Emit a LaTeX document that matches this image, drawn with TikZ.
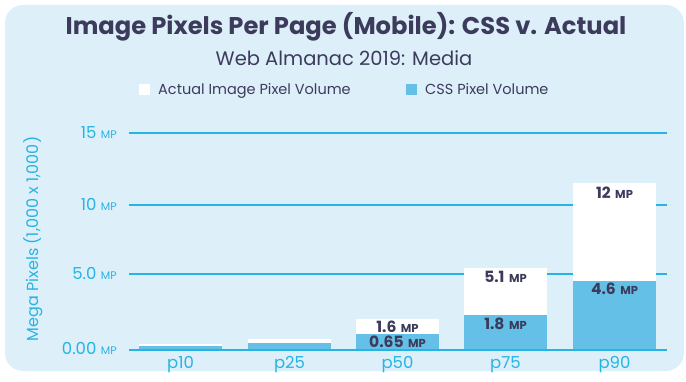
\documentclass[tikz,border=0pt]{standalone}
\usepackage{fontspec}
\setmainfont{Poppins}
\definecolor{bg}{RGB}{221,239,249}
\definecolor{navy}{RGB}{60,59,92}
\definecolor{cyanl}{RGB}{38,180,228}
\definecolor{barb}{RGB}{100,192,230}
\tikzset{
  grid/.style={draw=cyanl, line width=1.3pt},
  base/.style={draw=cyanl, line width=2.6pt},
  whitebar/.style={fill=white},
  bluebar/.style={fill=barb},
  val/.style={text=navy, font=\bfseries\fontsize{15.5}{17}\selectfont, inner sep=0pt, text height=11pt, text depth=0pt},
  ytick/.style={text=cyanl, font=\fontsize{16.5}{18}\selectfont, anchor=east, inner sep=0pt, text height=12pt, text depth=0pt},
  xtick/.style={text=cyanl, font=\fontsize{16.5}{18}\selectfont, inner sep=0pt},
  legtxt/.style={text=navy, font=\fontsize{14.5}{16}\selectfont, anchor=west, inner sep=0pt, text height=10.5pt, text depth=0pt},
}
\newcommand{\mpu}[1]{\hspace{4.5pt}{\fontsize{#1}{12}\selectfont MP}}
\begin{document}
\begin{tikzpicture}[x=1pt,y=-1pt]
\useasboundingbox (0,0) rectangle (686,382);
\fill[bg, rounded corners=18pt] (5,5) rectangle (684,371);
% title
\node[text=navy, font=\bfseries\fontsize{24.2}{27}\selectfont, inner sep=0pt] (title) at (346,27) {Image Pixels Per Page (Mobile): CSS v. Actual};
\node[text=navy, font=\fontsize{19.5}{22}\selectfont, inner sep=0pt] (sub) at (344,58) {Web Almanac 2019: Media};
% legend
\node[fill=white, minimum size=11pt, inner sep=0pt] (lw) at (144.5,89.5) {};
\node[legtxt] (lwt) at (158,89) {Actual Image Pixel Volume};
\node[fill=barb, minimum size=11pt, inner sep=0pt] (lb) at (411.5,89.5) {};
\node[legtxt] (lbt) at (425,89) {CSS Pixel Volume};
% grid
\draw[grid] (129,133) -- (667,133);
\draw[grid] (129,205) -- (667,205);
\draw[grid] (129,274) -- (667,274);
% y labels
\node[ytick] (y15) at (117,133) {15\mpu{11}};
\node[ytick] (y10) at (117,205) {10\mpu{11}};
\node[ytick] (y5) at (117,274) {5.0\mpu{11}};
\node[ytick] (y0) at (117,349) {0.00\mpu{11}};
\node[text=cyanl, font=\fontsize{16}{18}\selectfont, rotate=90, inner sep=0pt] (ytitle) at (33,239) {Mega Pixels (1,000 x 1,000)};
% bars
\fill[whitebar] (139,344) rectangle (222,350);
\fill[bluebar] (139,346) rectangle (222,350);
\fill[whitebar] (248,339) rectangle (331,350);
\fill[bluebar] (248,343) rectangle (331,350);
\fill[whitebar] (356,319) rectangle (439,350);
\fill[bluebar] (356,334) rectangle (439,350);
\fill[whitebar] (464,268) rectangle (547,350);
\fill[bluebar] (464,315) rectangle (547,350);
\fill[whitebar] (573,183) rectangle (656,350);
\fill[bluebar] (573,281) rectangle (656,350);
% baseline
\draw[base] (129,350) -- (667,350);
% values
\node[val] (v50a) at (397.5,327) {1.6\mpu{11.5}};
\node[val] (v50c) at (397.5,342) {0.65\mpu{11.5}};
\node[val] (v75a) at (505.5,277) {5.1\mpu{11.5}};
\node[val] (v75c) at (505.5,324) {1.8\mpu{11.5}};
\node[val] (v90a) at (614.5,193) {12\mpu{11.5}};
\node[val] (v90c) at (614.5,289) {4.6\mpu{11.5}};
% x labels
\node[xtick] (p10) at (180.5,365) {p10};
\node[xtick] (p25) at (289.5,365) {p25};
\node[xtick] (p50) at (397.5,365) {p50};
\node[xtick] (p75) at (505.5,365) {p75};
\node[xtick] (p90) at (614.5,365) {p90};
\end{tikzpicture}
\end{document}
